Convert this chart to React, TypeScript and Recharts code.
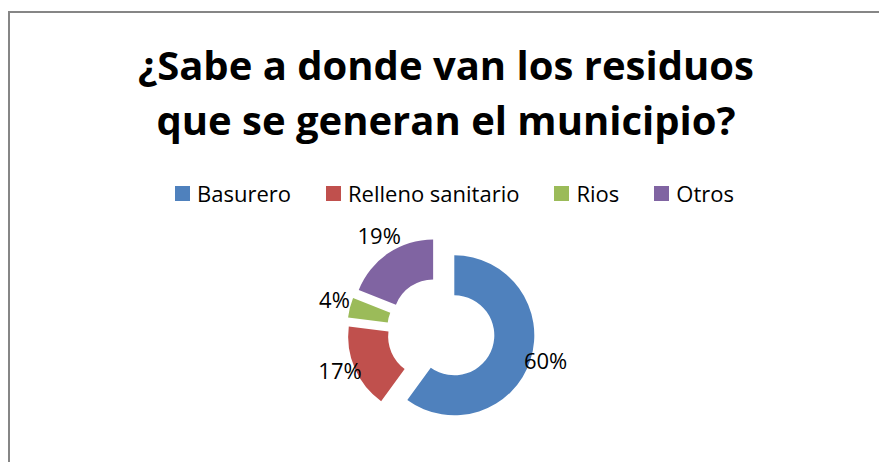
import React from 'react';
import { PieChart, Pie, Cell, Legend } from 'recharts';

const categories = ['Basurero', 'Relleno sanitario', 'Rios', 'Otros'];
const values = [60, 17, 4, 19];
const colors = ['#4F81BD', '#C0504D', '#9BBB59', '#8064A2'];
const titleLines = ['¿Sabe a donde van los residuos', 'que se generan el municipio?'];

const W = 879;
const H = 462;
const EXPLODE = 14;
const FONT = '"Open Sans", "Liberation Sans", sans-serif';

const data = categories.map((name, i) => ({ name, value: values[i] }));
const total = values.reduce((a, b) => a + b, 0);

// explosion offset along each slice's mid angle (clockwise from 12 o'clock)
const offsets = (() => {
  let cum = 0;
  return values.map((v) => {
    const mid = ((cum + v / 2) / total) * 2 * Math.PI;
    cum += v;
    return { dx: EXPLODE * Math.sin(mid), dy: -EXPLODE * Math.cos(mid) };
  });
})();

const RADIAN = Math.PI / 180;

const renderLabel = (props: any) => {
  const { cx, cy, midAngle, outerRadius, percent } = props;
  const r = outerRadius + 30;
  const x = cx + r * Math.cos(-midAngle * RADIAN);
  const y = cy + r * Math.sin(-midAngle * RADIAN) - 5;
  return (
    <text
      x={x}
      y={y}
      fill="#000"
      textAnchor="middle"
      dominantBaseline="central"
      style={{ fontFamily: FONT, fontSize: 22 }}
    >
      {`${Math.round(percent * 100)}%`}
    </text>
  );
};

const renderLegend = () => (
  <div
    style={{
      display: 'flex',
      justifyContent: 'center',
      alignItems: 'center',
      fontFamily: FONT,
      fontSize: 22,
      color: '#000',
      paddingLeft: 30,
    }}
  >
    {categories.map((name, i) => (
      <div
        key={name}
        style={{ display: 'flex', alignItems: 'center', marginRight: i < categories.length - 1 ? 35 : 0 }}
      >
        <span style={{ display: 'inline-block', width: 15, height: 15, background: colors[i], marginRight: 7 }} />
        <span style={{ lineHeight: '26px' }}>{name}</span>
      </div>
    ))}
  </div>
);

export default function App() {
  return (
    <div style={{ position: 'absolute', left: 0, top: 0, width: W, height: H, overflow: 'hidden', background: '#fff' }}>
      <div
        style={{
          position: 'absolute',
          left: 8,
          top: 11,
          width: W + 40,
          height: H + 40,
          border: '2px solid #868686',
          boxSizing: 'border-box',
        }}
      />
      <svg width={W} height={H} style={{ position: 'absolute', left: 0, top: 0 }}>
        {titleLines.map((t, i) => (
          <text
            key={i}
            x={446}
            y={80 + i * 55}
            textAnchor="middle"
            style={{ fontFamily: FONT, fontWeight: 700, fontSize: 40, fill: '#000' }}
          >
            {t}
          </text>
        ))}
      </svg>
      <div style={{ position: 'absolute', left: 0, top: 0 }}>
        <PieChart width={W} height={H} margin={{ top: 0, right: 0, bottom: 0, left: 0 }}>
          <Legend
            layout="horizontal"
            verticalAlign="middle"
            align="center"
            wrapperStyle={{ top: 180, left: 0, width: W }}
            content={renderLegend}
          />
          <Pie
            data={data}
            dataKey="value"
            nameKey="name"
            cx={441}
            cy={331}
            innerRadius={40}
            outerRadius={80}
            startAngle={90}
            endAngle={-270}
            stroke="none"
            label={renderLabel}
            labelLine={false}
            isAnimationActive={false}
          >
            {data.map((d, i) => (
              <Cell
                key={d.name}
                fill={colors[i]}
                transform={`translate(${offsets[i].dx.toFixed(2)}, ${offsets[i].dy.toFixed(2)})`}
              />
            ))}
          </Pie>
        </PieChart>
      </div>
    </div>
  );
}
